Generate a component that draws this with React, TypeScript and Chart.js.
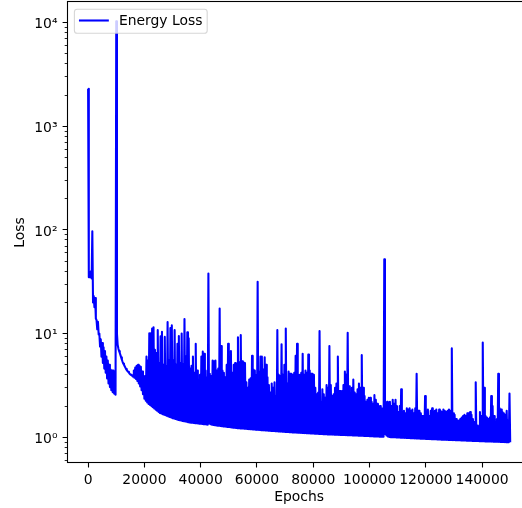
import { useEffect, useRef } from "react";
import { Chart, registerables } from "chart.js";

Chart.register(...registerables);

const EPOCH_STEP = 250;
const seriesLabel = "Energy Loss";

const loss0k = [
  2300, 35, 39, 35, 40, 34, 97, 20, 23, 18, 22, 14, 13.5, 11, 13, 9.8, 10, 7.5, 8.8, 6.0,
  8.1, 5.2, 7.4, 4.6, 6.8, 4.2, 6.0, 3.7, 5.5, 3.3, 5.0, 3.05, 4.5, 2.85, 4.4, 2.72, 4.4, 2.64, 4.3, 2.58,
];
const loss10k = [
  10300, 10, 7.8, 7.2, 6.8, 6.5, 6.2, 5.9, 5.6, 5.35, 5.15, 5.0, 4.85, 4.7, 4.55, 4.45, 4.35, 4.28, 4.2, 4.1,
  4.05, 4.0, 3.95, 3.9, 3.85, 4.4, 3.75, 4.7, 3.65, 4.9, 3.5, 5.0, 3.3, 4.9, 3.1, 4.8, 2.85, 4.3, 2.6, 3.9,
];
const loss20k = [
  2.35, 3.9, 2.25, 6.0, 2.17, 5.5, 2.1, 10.1, 2.05, 10.1, 2.0, 11.2, 1.95, 11.5, 1.9, 7.0, 1.85, 6.5, 1.8, 10.8,
  1.76, 5.2, 1.72, 9.4, 1.7, 10.4, 1.67, 5.0, 1.65, 9.3, 1.63, 4.8, 1.61, 12.9, 1.59, 5.5, 1.57, 11.3, 1.55, 12.0,
];
const loss30k = [
  1.53, 5.5, 1.52, 10.8, 1.5, 5.0, 1.49, 8.0, 1.47, 9.5, 1.46, 5.2, 1.45, 10.0, 1.44, 5.0, 1.43, 13.8, 1.42, 6.0,
  1.41, 10.3, 1.4, 9.0, 1.39, 4.6, 1.385, 4.9, 1.38, 6.0, 1.375, 4.2, 1.37, 8.0, 1.365, 4.4, 1.36, 3.6, 1.355, 4.0,
];
const loss40k = [
  1.35, 6.0, 1.345, 6.7, 1.34, 6.4, 1.335, 4.4, 1.33, 3.8, 1.325, 38, 1.36, 4.1, 1.34, 3.9, 1.32, 5.5, 1.315, 5.4,
  1.31, 5.5, 1.3, 4.4, 1.295, 4.6, 1.29, 17.5, 1.285, 7.6, 1.28, 4.4, 1.275, 4.2, 1.27, 3.8, 1.265, 5.0, 1.26, 8.0,
];
const loss50k = [
  1.255, 6.0, 1.25, 6.8, 1.245, 4.2, 1.24, 5.0, 1.235, 5.2, 1.23, 5.0, 1.227, 9.2, 1.223, 5.3, 1.22, 9.7, 1.217, 5.4,
  1.214, 5.3, 1.21, 5.2, 1.207, 3.4, 1.204, 3.0, 1.2, 3.6, 1.197, 3.7, 1.194, 6.1, 1.19, 4.5, 1.187, 4.4, 1.184, 4.0,
];
const loss60k = [
  1.18, 31.6, 1.18, 4.3, 1.176, 6.0, 1.173, 6.0, 1.17, 4.5, 1.167, 5.9, 1.164, 5.0, 1.161, 3.8, 1.158, 3.2, 1.155, 2.7,
  1.153, 3.3, 1.151, 3.0, 1.149, 3.4, 1.147, 2.5, 1.144, 10.8, 1.141, 4.0, 1.138, 3.9, 1.135, 7.9, 1.133, 4.0, 1.13, 5.0,
];
const loss70k = [
  1.128, 11.2, 1.125, 3.3, 1.123, 4.3, 1.12, 4.1, 1.118, 4.1, 1.116, 4.0, 1.114, 4.2, 1.112, 6.1, 1.11, 8.0, 1.108, 4.0,
  1.106, 4.0, 1.104, 4.2, 1.102, 6.4, 1.1, 4.0, 1.098, 4.4, 1.096, 4.2, 1.094, 6.3, 1.092, 4.4, 1.09, 4.1, 1.088, 4.1,
];
const loss80k = [
  1.087, 4.0, 1.085, 3.0, 1.083, 2.6, 1.081, 2.7, 1.079, 10.6, 1.077, 2.2, 1.075, 2.9, 1.073, 2.6, 1.072, 2.4, 1.07, 3.2,
  1.068, 3.0, 1.066, 7.6, 1.065, 3.2, 1.063, 2.5, 1.062, 2.6, 1.06, 3.0, 1.059, 3.3, 1.057, 6.0, 1.056, 2.8, 1.055, 2.8,
];
const loss90k = [
  1.054, 2.8, 1.052, 3.2, 1.051, 4.3, 1.05, 4.0, 1.048, 10.2, 1.047, 3.1, 1.046, 2.7, 1.045, 3.0, 1.043, 3.6, 1.042, 2.7,
  1.04, 2.6, 1.039, 2.9, 1.038, 3.3, 1.036, 3.0, 1.035, 6.2, 1.034, 3.0, 1.032, 2.5, 1.031, 2.2, 1.03, 2.3, 1.028, 2.4,
];
const loss100k = [
  1.025, 2.4, 1.024, 2.2, 1.022, 2.1, 1.021, 2.55, 1.02, 2.3, 1.018, 2.1, 1.017, 2.0, 1.015, 2.0, 1.014, 1.9, 1.012, 1.9,
  1.011, 52, 1.08, 2.0, 1.04, 2.2, 1.02, 2.1, 1.005, 2.2, 1.004, 2.0, 1.002, 2.3, 1.001, 2.1, 1.0, 2.3, 0.998, 2.0,
];
const loss110k = [
  0.995, 1.75, 0.994, 2.0, 0.992, 2.9, 0.991, 1.75, 0.99, 1.8, 0.988, 1.7, 0.987, 1.9, 0.985, 1.85, 0.984, 1.9, 0.982, 1.8,
  0.98, 1.85, 0.979, 1.7, 0.977, 1.9, 0.976, 4.1, 0.974, 1.8, 0.973, 1.8, 0.971, 1.7, 0.97, 1.6, 0.968, 1.6, 0.967, 2.5,
];
const loss120k = [
  0.965, 1.75, 0.964, 1.85, 0.962, 1.6, 0.961, 1.8, 0.96, 1.9, 0.958, 1.75, 0.957, 1.8, 0.956, 1.85, 0.954, 1.7, 0.953, 1.85,
  0.952, 1.8, 0.95, 1.75, 0.949, 1.85, 0.948, 1.8, 0.946, 1.75, 0.945, 1.8, 0.944, 1.85, 0.943, 1.8, 0.941, 7.2, 0.94, 1.7,
];
const loss130k = [
  0.94, 1.65, 0.938, 1.5, 0.937, 1.45, 0.936, 1.45, 0.935, 1.5, 0.933, 1.55, 0.932, 1.6, 0.931, 1.65, 0.93, 1.6, 0.929, 1.7,
  0.928, 1.7, 0.926, 1.75, 0.925, 1.65, 0.924, 1.5, 0.923, 1.4, 0.922, 3.4, 0.921, 1.3, 0.92, 1.25, 0.918, 1.75, 0.917, 1.6,
];
const loss140k = [
  0.916, 8.2, 0.915, 3.0, 0.914, 1.6, 0.913, 1.55, 0.912, 1.5, 0.911, 1.55, 0.91, 2.5, 0.909, 2.0, 0.908, 1.6, 0.907, 1.4,
  0.906, 1.5, 0.905, 4.1, 0.904, 1.9, 0.902, 1.85, 0.901, 1.75, 0.9, 1.7, 0.899, 1.65, 0.898, 1.8, 0.897, 1.45, 0.896, 2.65,
];
const lossFinal = [0.895];

const xTickValues = [0, 20000, 40000, 60000, 80000, 100000, 120000, 140000];
const yTickValues = [1, 10, 100, 1000, 10000];
const yTickLabels = ["10\u2070", "10\u00B9", "10\u00B2", "10\u00B3", "10\u2074"];
const yMinorTickValues = [
  0.6, 0.7, 0.8, 0.9, 2, 3, 4, 5, 6, 7, 8, 9, 20, 30, 40, 50, 60, 70, 80, 90,
  200, 300, 400, 500, 600, 700, 800, 900, 2000, 3000, 4000, 5000, 6000, 7000, 8000, 9000,
];
const X_MIN = -7500;
const X_MAX = 157500;
const Y_MIN = 0.5651;
const Y_MAX = 15795;

const FONT = "'DejaVu Sans'";
const FS = 13.9;
const BLUE = "#0000ff";

const allLoss = [
  ...loss0k, ...loss10k, ...loss20k, ...loss30k, ...loss40k, ...loss50k, ...loss60k, ...loss70k,
  ...loss80k, ...loss90k, ...loss100k, ...loss110k, ...loss120k, ...loss130k, ...loss140k, ...lossFinal,
];

const mplPlugin = {
  id: "mplDecor",
  afterDatasetsDraw(chart: any) {
    const { ctx, chartArea: a, scales } = chart;
    const xs = scales.x;
    const ys = scales.y;
    ctx.save();
    ctx.strokeStyle = "#000";
    // spines
    ctx.lineWidth = 1.1;
    ctx.strokeRect(a.left + 0.5, a.top - 0.5, a.right - a.left, a.bottom - a.top);
    // x major ticks
    ctx.beginPath();
    for (const v of xTickValues) {
      const px = Math.round(xs.getPixelForValue(v) - 0.5) + 0.5;
      ctx.moveTo(px, a.bottom - 0.5);
      ctx.lineTo(px, a.bottom + 4.4);
    }
    // y major ticks
    for (const v of yTickValues) {
      const py = Math.round(ys.getPixelForValue(v) - 0.5) + 0.5;
      ctx.moveTo(a.left + 0.5, py);
      ctx.lineTo(a.left + 0.5 - 4.9, py);
    }
    ctx.stroke();
    // y minor ticks
    ctx.lineWidth = 0.85;
    ctx.beginPath();
    for (const v of yMinorTickValues) {
      const py = Math.round(ys.getPixelForValue(v) - 0.5) + 0.5;
      ctx.moveTo(a.left + 0.5, py);
      ctx.lineTo(a.left + 0.5 - 2.8, py);
    }
    ctx.stroke();
    ctx.restore();
  },
  afterDraw(chart: any) {
    const { ctx, chartArea: a } = chart;
    const label = chart.data.datasets[0].label;
    const bx = a.left + 7.4;
    const by = a.top + 7.3;
    const bw = 132.8;
    const bh = 24;
    const r = 2.8;
    ctx.save();
    ctx.beginPath();
    ctx.moveTo(bx + r, by);
    ctx.lineTo(bx + bw - r, by);
    ctx.quadraticCurveTo(bx + bw, by, bx + bw, by + r);
    ctx.lineTo(bx + bw, by + bh - r);
    ctx.quadraticCurveTo(bx + bw, by + bh, bx + bw - r, by + bh);
    ctx.lineTo(bx + r, by + bh);
    ctx.quadraticCurveTo(bx, by + bh, bx, by + bh - r);
    ctx.lineTo(bx, by + r);
    ctx.quadraticCurveTo(bx, by, bx + r, by);
    ctx.closePath();
    ctx.fillStyle = "rgba(255,255,255,0.8)";
    ctx.fill();
    ctx.strokeStyle = "rgba(204,204,204,0.8)";
    ctx.lineWidth = 1.1;
    ctx.stroke();
    // handle line
    ctx.beginPath();
    ctx.strokeStyle = BLUE;
    ctx.lineWidth = 2.08;
    ctx.lineCap = "square";
    ctx.moveTo(bx + 5.6, by + 11.2);
    ctx.lineTo(bx + 5.6 + 27.8, by + 11.2);
    ctx.stroke();
    // text
    ctx.fillStyle = "#000";
    ctx.font = `${FS}px ${FONT}`;
    ctx.textBaseline = "alphabetic";
    ctx.textAlign = "left";
    ctx.fillText(label, bx + 5.6 + 27.8 + 11.1, by + 15.6);
    ctx.restore();
  },
};

export default function App() {
  const ref = useRef<HTMLCanvasElement | null>(null);

  useEffect(() => {
    const canvas = ref.current;
    if (!canvas) return;
    const points = allLoss.map((v, i) => ({ x: i * EPOCH_STEP, y: v }));
    const font = { family: FONT, size: FS };
    const chart = new Chart(canvas, {
      type: "line",
      data: {
        datasets: [
          {
            label: seriesLabel,
            data: points,
            borderColor: BLUE,
            backgroundColor: BLUE,
            borderWidth: 2.08,
            borderJoinStyle: "round",
            borderCapStyle: "butt",
            pointRadius: 0,
            pointHoverRadius: 0,
            tension: 0,
            fill: false,
          },
        ],
      },
      options: {
        responsive: false,
        animation: false,
        devicePixelRatio: 1,
        events: [],
        layout: { padding: { top: 2, right: 8.7, left: 0, bottom: 0 } },
        plugins: { legend: { display: false }, tooltip: { enabled: false } },
        scales: {
          x: {
            type: "linear",
            min: X_MIN,
            max: X_MAX,
            afterBuildTicks: (s: any) => {
              s.ticks = xTickValues.map((v) => ({ value: v }));
            },
            afterFit: (s: any) => {
              s.height = 45;
              s.paddingLeft = 0;
              s.paddingRight = 0;
              s.paddingTop = 0;
              s.paddingBottom = 0;
            },
            grid: { display: false, drawTicks: false, tickLength: 0 },
            border: { display: false },
            ticks: {
              autoSkip: false,
              maxRotation: 0,
              minRotation: 0,
              padding: 9.3,
              color: "#000",
              font,
              callback: (v: any) => String(v),
            },
            title: {
              display: true,
              text: "Epochs",
              color: "#000",
              font,
              padding: { top: 0, bottom: 2 },
            },
          },
          y: {
            type: "logarithmic",
            min: Y_MIN,
            max: Y_MAX,
            afterBuildTicks: (s: any) => {
              s.ticks = yTickValues.map((v) => ({ value: v }));
            },
            afterFit: (s: any) => {
              s.width = 67;
              s.paddingLeft = 0;
              s.paddingRight = 0;
              s.paddingTop = 0;
              s.paddingBottom = 0;
            },
            grid: { display: false, drawTicks: false, tickLength: 0 },
            border: { display: false },
            ticks: {
              autoSkip: false,
              padding: 9.5,
              labelOffset: 2,
              color: "#000",
              font,
              callback: (v: any) => {
                const idx = yTickValues.indexOf(Number(v));
                return idx >= 0 ? yTickLabels[idx] : "";
              },
            },
            title: {
              display: true,
              text: "Loss",
              color: "#000",
              font,
              padding: { top: 12.5, bottom: 0 },
            },
          },
        },
      },
      plugins: [mplPlugin],
    } as any);
    return () => chart.destroy();
  }, []);

  return (
    <div
      style={{
        position: "absolute",
        left: 0,
        top: 0,
        width: 522,
        height: 508,
        overflow: "hidden",
        background: "#fff",
      }}
    >
      <canvas ref={ref} width={540} height={508} style={{ display: "block" }} />
    </div>
  );
}
